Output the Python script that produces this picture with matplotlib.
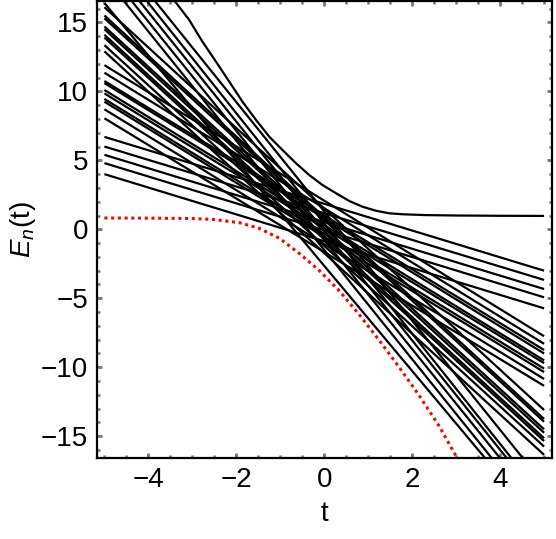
import numpy as np
import matplotlib

matplotlib.use("Agg")
from matplotlib import pyplot as plt
from matplotlib.ticker import MultipleLocator

plt.rcParams["font.family"] = ["Liberation Sans", "DejaVu Sans"]
plt.rcParams["mathtext.fontset"] = "custom"
plt.rcParams["mathtext.rm"] = "Liberation Sans"
plt.rcParams["mathtext.it"] = "Liberation Sans:italic"

# levels: value at t=-5 and at t=5 (off-frame ones extrapolated)
t_left, t_right = -5.0, 5.0

slope1_left = [4.0, 4.8, 5.4, 6.0, 6.7]
slope1_right = [-5.73, -4.93, -4.33, -3.67, -3.0]

slope2_left = [8.05, 8.7, 9.25, 9.45, 9.85, 10.1, 10.6, 10.75, 11.35, 11.9]
slope2_right = [-11.35, -10.85, -10.35, -10.1, -9.7, -9.5, -9.0, -8.75, -8.3, -7.75]

slope3_left = [12.9, 13.35, 13.9, 14.1, 14.5, 14.7, 15.3, 15.5, 16.1]
slope3_right = [-16.35, -15.75, -15.35, -15.14, -14.75, -14.5, -13.95, -13.75, -13.1]

slope4_left = [16.4, 18.3, 19.0, 19.7, 20.4, 21.1]
slope4_right = [-21.7, -21.3, -20.55, -19.95, -19.55, -18.5]

# upper level that bends flat
upper_t = [-3.6, -3.37, -3.07, -2.77, -2.46, -2.16, -1.86, -1.55, -1.25, -0.95,
           -0.64, -0.34, -0.04, 0.27, 0.57, 0.87, 1.17, 1.48, 1.78, 2.3, 3.0,
           4.0, 5.0]
upper_E = [17.4, 16.42, 15.17, 13.6, 12.14, 10.7, 9.25, 7.92, 6.71, 5.75,
           4.78, 3.93, 3.21, 2.61, 2.05, 1.64, 1.35, 1.16, 1.09, 1.03, 1.0,
           0.98, 0.97]

# ground state (red dotted)
ground_t = [-5.0, -4.0, -3.0, -2.54, -1.93, -1.48, -1.02, -0.57, -0.11, 0.34,
            0.8, 1.25, 1.7, 2.16, 2.61, 2.99, 3.2]
ground_E = [0.82, 0.81, 0.78, 0.72, 0.48, 0.07, -0.65, -1.74, -3.0, -4.45,
            -6.2, -8.05, -9.98, -12.05, -14.25, -16.4, -17.6]

W, H = 556, 539
fig = plt.figure(figsize=(W / 100, H / 100), dpi=100)
ax = fig.add_axes([96.5 / W, 1 - 458.3 / H, (552 - 96.5) / W, (458.3 - 1) / H])

line_kw = dict(color="black", lw=1.6, solid_capstyle="butt", solid_joinstyle="round")
for lefts, rights in [
    (slope1_left, slope1_right),
    (slope2_left, slope2_right),
    (slope3_left, slope3_right),
    (slope4_left, slope4_right),
]:
    for a, b in zip(lefts, rights):
        ax.plot([t_left, t_right], [a, b], **line_kw)

ax.plot(upper_t, upper_E, **line_kw)
ax.plot(ground_t, ground_E, color="red", lw=2.2, linestyle=(0, (1, 1.2)))

ax.set_xlim(-5.18, 5.18)
ax.set_ylim(-16.6, 16.55)

ax.xaxis.set_major_locator(MultipleLocator(2))
ax.xaxis.set_minor_locator(MultipleLocator(0.5))
ax.yaxis.set_major_locator(MultipleLocator(5))
ax.yaxis.set_minor_locator(MultipleLocator(1))

ax.tick_params(which="both", direction="in", top=True, right=True,
               color="#777777", labelsize=20, pad=6)
ax.tick_params(which="major", length=3.5, width=2.0)
ax.tick_params(which="minor", length=2.2, width=1.8)

for sp in ax.spines.values():
    sp.set_linewidth(1.6)
    sp.set_zorder(5)

ax.set_xlabel("t", fontsize=20, labelpad=6)
ax.set_ylabel(r"$E_n$(t)", fontsize=20, labelpad=2)

fig.savefig("out.png", dpi=100)
